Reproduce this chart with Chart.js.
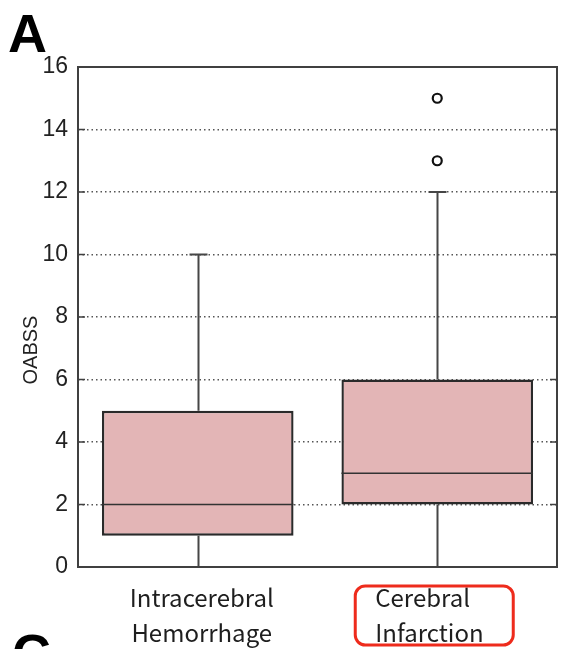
<!DOCTYPE html>
<html>
<head>
<meta charset="utf-8">
<script src="https://cdn.jsdelivr.net/npm/chart.js@4.4.1/dist/chart.umd.min.js"></script>
<style>
  html, body { margin: 0; padding: 0; background: #ffffff; }
  #wrap { width: 565px; height: 649px; position: relative; }
</style>
</head>
<body>
<div id="wrap"><canvas id="c" width="565" height="649"></canvas></div>
<script>
// Groups and their box-plot summaries (OABSS scores)
const categories = [['Intracerebral', 'Hemorrhage'], ['Cerebral', 'Infarction']];
const whiskerLow = [0, 0];
const quartile1 = [1, 2];
const medians = [2, 3];
const quartile3 = [5, 6];
const whiskerHigh = [10, 12];
// Outliers per group (null where a group has none)
const outliersA = [null, 13];
const outliersB = [null, 15];
const yTicks = [0, 2, 4, 6, 8, 10, 12, 14, 16];

const frameColor = '#404040';
const boxFill = '#e3b5b6';

// Whiskers, medians, frame, tick marks, group labels and panel lettering
const boxExtras = {
  id: 'boxExtras',
  beforeDatasetsDraw(chart) {
    const { ctx, scales: { x, y } } = chart;
    ctx.save();
    ctx.strokeStyle = '#464646';
    ctx.lineWidth = 2;
    for (let i = 0; i < categories.length; i++) {
      const cx = Math.round(x.getPixelForValue(i)) + 0.5;
      const capHalf = 9;
      ctx.beginPath();
      // lower whisker
      ctx.moveTo(cx, y.getPixelForValue(quartile1[i]));
      ctx.lineTo(cx, y.getPixelForValue(whiskerLow[i]));
      ctx.moveTo(cx - capHalf, y.getPixelForValue(whiskerLow[i]));
      ctx.lineTo(cx + capHalf, y.getPixelForValue(whiskerLow[i]));
      // upper whisker
      ctx.moveTo(cx, y.getPixelForValue(quartile3[i]));
      ctx.lineTo(cx, y.getPixelForValue(whiskerHigh[i]));
      ctx.moveTo(cx - capHalf, y.getPixelForValue(whiskerHigh[i]));
      ctx.lineTo(cx + capHalf, y.getPixelForValue(whiskerHigh[i]));
      ctx.stroke();
    }
    ctx.restore();
  },
  afterDatasetsDraw(chart) {
    const { ctx, chartArea: a, scales: { x, y } } = chart;
    ctx.save();
    // median lines across each box
    const boxes = chart.getDatasetMeta(0).data;
    ctx.strokeStyle = '#333333';
    ctx.lineWidth = 1.6;
    boxes.forEach((bar, i) => {
      const half = bar.width / 2;
      const my = y.getPixelForValue(medians[i]);
      ctx.beginPath();
      ctx.moveTo(bar.x - half, my);
      ctx.lineTo(bar.x + half, my);
      ctx.stroke();
    });
    // plot frame
    ctx.strokeStyle = frameColor;
    ctx.lineWidth = 2;
    ctx.strokeRect(a.left, a.top, a.right - a.left, a.bottom - a.top);
    // inward tick marks on both sides
    ctx.lineWidth = 1.6;
    yTicks.forEach(v => {
      const py = y.getPixelForValue(v);
      ctx.beginPath();
      ctx.moveTo(a.left, py); ctx.lineTo(a.left + 7, py);
      ctx.moveTo(a.right, py); ctx.lineTo(a.right - 7, py);
      ctx.stroke();
    });
    // group labels under the axis
    ctx.fillStyle = '#1e1e1e';
    ctx.font = '24px "Noto Sans CJK JP", "DejaVu Sans", sans-serif';
    ctx.textBaseline = 'alphabetic';
    const c0 = x.getPixelForValue(0);
    const c1 = x.getPixelForValue(1);
    ctx.textAlign = 'center';
    ctx.fillText(categories[0][0], c0 + 4, 607);
    ctx.fillText(categories[0][1], c0 + 4, 642);
    ctx.textAlign = 'left';
    ctx.fillText(categories[1][0], c1 - 62, 607);
    ctx.fillText(categories[1][1], c1 - 62, 642);
    // axis title
    ctx.fillStyle = '#222222';
    ctx.font = '20px "Liberation Sans", Arial, sans-serif';
    ctx.textAlign = 'center';
    ctx.textBaseline = 'middle';
    ctx.translate(31, 350);
    ctx.rotate(-Math.PI / 2);
    ctx.fillText('OABSS', 0, 0);
    ctx.restore();

    ctx.save();
    // panel letters
    ctx.fillStyle = '#000000';
    ctx.font = 'bold 54px "Liberation Sans", Arial, sans-serif';
    ctx.textAlign = 'left';
    ctx.textBaseline = 'alphabetic';
    ctx.fillText('A', 8, 52);
    ctx.fillText('C', 12, 672);
    // highlight around the second group label
    ctx.strokeStyle = '#ee2b1c';
    ctx.lineWidth = 3;
    ctx.beginPath();
    ctx.roundRect(c1 - 82, 586, 158, 59, 10);
    ctx.stroke();
    ctx.restore();
  }
};

const outlierStyle = {
  type: 'line',
  showLine: false,
  pointRadius: 4.5,
  pointBorderWidth: 2.2,
  pointBackgroundColor: '#ffffff',
  pointBorderColor: '#111111',
  order: 1
};

new Chart(document.getElementById('c'), {
  data: {
    labels: categories,
    datasets: [
      {
        type: 'bar',
        data: quartile1.map((q, i) => [q, quartile3[i]]),
        backgroundColor: boxFill,
        borderColor: '#2a2a2a',
        borderWidth: 2.4,
        borderSkipped: false,
        barPercentage: 0.8,
        categoryPercentage: 1.0,
        order: 2
      },
      Object.assign({ data: outliersA }, outlierStyle),
      Object.assign({ data: outliersB }, outlierStyle)
    ]
  },
  options: {
    responsive: false,
    animation: false,
    devicePixelRatio: 1,
    layout: { padding: { top: 67, right: 8, left: 0, bottom: 0 } },
    plugins: { legend: { display: false }, tooltip: { enabled: false } },
    scales: {
      x: {
        type: 'category',
        offset: true,
        afterFit(s) { s.height = 82; },
        grid: { display: false, drawTicks: false },
        border: { display: false },
        ticks: { display: false }
      },
      y: {
        type: 'linear',
        min: 0,
        max: 16,
        afterFit(s) { s.width = 78; },
        afterBuildTicks(s) { s.ticks = yTicks.map(v => ({ value: v })); },
        grid: {
          drawTicks: false,
          color: '#555555',
          lineWidth: 1.5
        },
        border: { display: false, dash: [1.5, 3] },
        ticks: {
          color: '#222222',
          padding: 10,
          font: { family: '"Liberation Sans", Arial, sans-serif', size: 23 }
        }
      }
    }
  },
  plugins: [boxExtras]
});
</script>
</body>
</html>
